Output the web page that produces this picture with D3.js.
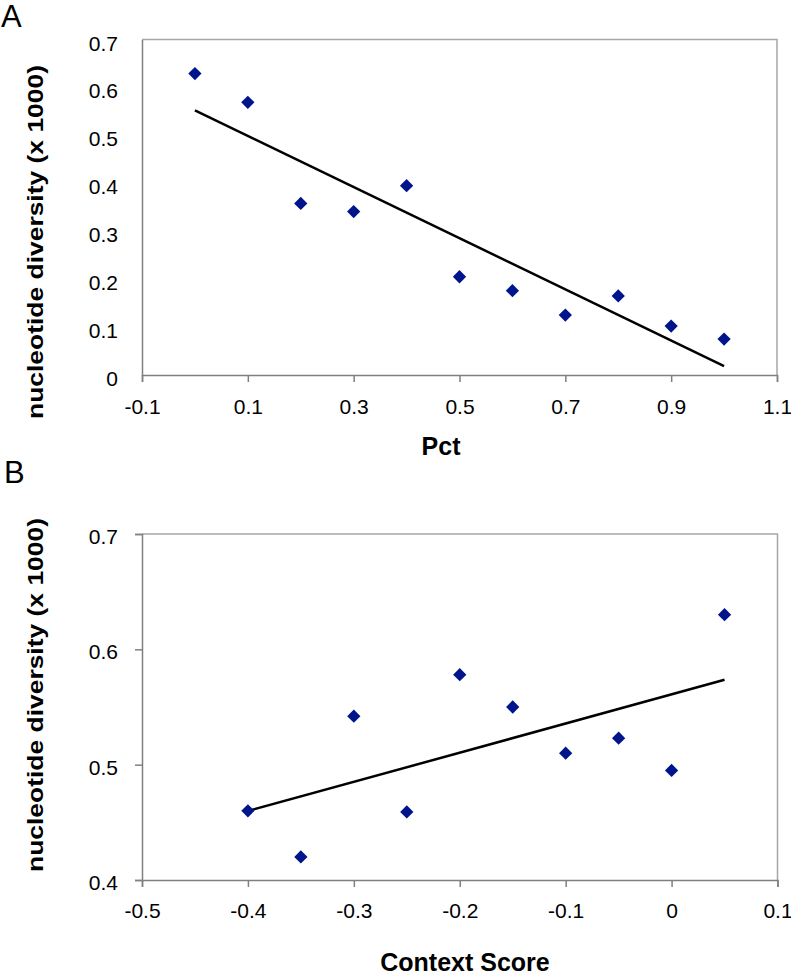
<!DOCTYPE html>
<html>
<head>
<meta charset="utf-8">
<script src="https://cdn.jsdelivr.net/npm/d3@7"></script>
<style>
  html, body { margin: 0; padding: 0; background: #fff; }
  svg { display: block; font-family: "Liberation Sans", Arial, sans-serif; }
</style>
</head>
<body>
<svg id="chart" width="791" height="973"></svg>
<script>
// ---- Panel A data ----
const pctX = [0, 0.1, 0.2, 0.3, 0.4, 0.5, 0.6, 0.7, 0.8, 0.9, 1.0];
const pctY = [0.629, 0.569, 0.358, 0.341, 0.395, 0.205, 0.176, 0.125, 0.165, 0.102, 0.075];
const pctXTicks = [-0.1, 0.1, 0.3, 0.5, 0.7, 0.9, 1.1];
const pctYTicks = [0, 0.1, 0.2, 0.3, 0.4, 0.5, 0.6, 0.7];

// ---- Panel B data ----
const ctxX = [-0.4, -0.35, -0.3, -0.25, -0.2, -0.15, -0.1, -0.05, 0, 0.05];
const ctxY = [0.460, 0.420, 0.542, 0.459, 0.578, 0.550, 0.510, 0.523, 0.495, 0.630];
const ctxXTicks = [-0.5, -0.4, -0.3, -0.2, -0.1, 0, 0.1];
const ctxYTicks = [0.4, 0.5, 0.6, 0.7];

const yLabel = "nucleotide diversity (x 1000)";

const svg = d3.select("#chart");
const markerColor = "#00158c";

function fit(xs, ys) {
  const mx = d3.mean(xs), my = d3.mean(ys);
  let sxy = 0, sxx = 0;
  xs.forEach((x, i) => { sxy += (x - mx) * (ys[i] - my); sxx += (x - mx) * (x - mx); });
  const b = sxy / sxx;
  return { a: my - b * mx, b };
}

function panel(opt) {
  const x = d3.scaleLinear().domain(opt.xDomain).range([opt.left, opt.right]);
  const y = d3.scaleLinear().domain(opt.yDomain).range([opt.bottom, opt.top]);
  const g = svg.append("g");

  // frame (top & right)
  g.append("path")
    .attr("d", `M${opt.left},${opt.top}H${opt.right}V${opt.bottom}`)
    .attr("fill", "none").attr("stroke", "#a6a6a6").attr("stroke-width", 1.5);

  // x axis
  const xAxis = d3.axisBottom(x).tickValues(opt.xTicks).tickSize(7).tickPadding(10)
    .tickFormat(d => d3.format("")(+d.toFixed(2)).replace("−", "-"));
  const gx = g.append("g").attr("transform", `translate(0,${opt.bottom})`).call(xAxis);
  gx.select(".domain").attr("stroke", "#808080").attr("stroke-width", 1.5);
  gx.selectAll(".tick line").attr("stroke", "#808080").attr("stroke-width", 1.5);
  gx.selectAll(".tick text").attr("font-size", 21).attr("fill", "#000")
    .attr("font-family", "Liberation Sans, Arial, sans-serif")
    .attr("dy", null).attr("y", opt.xLabelBaseline - opt.bottom);

  // y axis
  const yAxis = d3.axisLeft(y).tickValues(opt.yTicks).tickSize(opt.yTickSize).tickPadding(0)
    .tickFormat(d => String(+d.toFixed(2)));
  const gy = g.append("g").attr("transform", `translate(${opt.left},0)`).call(yAxis);
  gy.select(".domain").attr("stroke", "#808080").attr("stroke-width", 1.5);
  gy.selectAll(".tick line").attr("stroke", "#808080").attr("stroke-width", 1.5);
  gy.selectAll(".tick text").attr("font-size", 21).attr("fill", "#000")
    .attr("font-family", "Liberation Sans, Arial, sans-serif")
    .attr("x", -24).attr("dy", opt.yDy);

  // trend line
  const f = fit(opt.xs, opt.ys);
  const x0 = d3.min(opt.xs), x1 = d3.max(opt.xs);
  g.append("line")
    .attr("x1", x(x0)).attr("y1", y(f.a + f.b * x0))
    .attr("x2", x(x1)).attr("y2", y(f.a + f.b * x1))
    .attr("stroke", "#000").attr("stroke-width", 2.5);

  // markers
  const sym = d3.symbol().type(d3.symbolSquare).size(88);
  g.append("g").selectAll("path").data(opt.xs.map((v, i) => [v, opt.ys[i]]))
    .join("path")
    .attr("d", sym)
    .attr("transform", d => `translate(${x(d[0])},${y(d[1])}) rotate(45)`)
    .attr("fill", markerColor);

  // y label
  g.append("text")
    .attr("transform", `translate(${opt.yLabelX},${opt.yLabelY}) rotate(-90)`)
    .attr("text-anchor", "middle")
    .attr("font-size", 22).attr("font-weight", "bold")
    .attr("textLength", 354).attr("lengthAdjust", "spacingAndGlyphs")
    .text(yLabel);

  // x label
  g.append("text")
    .attr("x", opt.xTitleX).attr("y", opt.xTitleY)
    .attr("text-anchor", "middle")
    .attr("font-size", 25).attr("font-weight", "bold")
    .text(opt.xTitle);

  // panel letter
  g.append("text")
    .attr("x", opt.letterX).attr("y", opt.letterY)
    .attr("font-size", 31)
    .text(opt.letter);
}

panel({
  xs: pctX, ys: pctY, xDomain: [-0.1, 1.1], yDomain: [0, 0.7],
  xTicks: pctXTicks, yTicks: pctYTicks,
  left: 142, right: 777, top: 39.5, bottom: 375,
  yTickSize: 0, yDy: "0.5em", xLabelBaseline: 414,
  yLabelX: 43, yLabelY: 242, xTitle: "Pct", xTitleX: 441, xTitleY: 455,
  letter: "A", letterX: 1, letterY: 27
});

panel({
  xs: ctxX, ys: ctxY, xDomain: [-0.5, 0.1], yDomain: [0.4, 0.7],
  xTicks: ctxXTicks, yTicks: ctxYTicks,
  left: 142, right: 777.5, top: 534, bottom: 880,
  yTickSize: 7, yDy: "0.45em", xLabelBaseline: 918,
  yLabelX: 43, yLabelY: 695, xTitle: "Context Score", xTitleX: 465, xTitleY: 971,
  letter: "B", letterX: 4, letterY: 483
});
</script>
</body>
</html>
